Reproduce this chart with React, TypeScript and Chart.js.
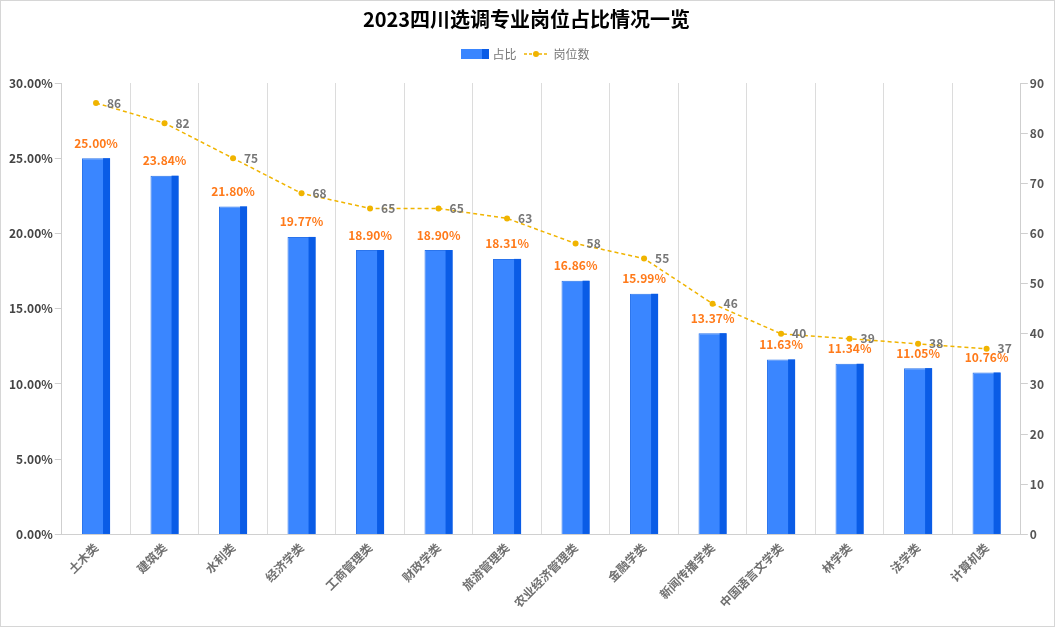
import React, { useEffect, useRef } from "react";
import { Chart, registerables } from "chart.js";

Chart.register(...registerables);

const categories = [
  "土木类", "建筑类", "水利类", "经济学类", "工商管理类", "财政学类", "旅游管理类",
  "农业经济管理类", "金融学类", "新闻传播学类", "中国语言文学类", "林学类", "法学类", "计算机类",
];
const sharePercent = [25.0, 23.84, 21.8, 19.77, 18.9, 18.9, 18.31, 16.86, 15.99, 13.37, 11.63, 11.34, 11.05, 10.76];
const positionCounts = [86, 82, 75, 68, 65, 65, 63, 58, 55, 46, 40, 39, 38, 37];
const titleText = "2023四川选调专业岗位占比情况一览";
const seriesNames = ["占比", "岗位数"];

const FONT = "'Noto Sans CJK SC', 'Noto Sans', sans-serif";
const BAR_MAIN = "#3a86ff";
const BAR_SIDE = "#0a5ce6";
const LINE_COLOR = "#f0b400";

function makeBarIcon() {
  const c = document.createElement("canvas");
  c.width = 28;
  c.height = 10;
  const ctx = c.getContext("2d")!;
  ctx.fillStyle = BAR_MAIN;
  ctx.fillRect(0, 0, 21, 10);
  ctx.fillStyle = BAR_SIDE;
  ctx.fillRect(21, 0, 7, 10);
  return c;
}
function makeLineIcon() {
  const c = document.createElement("canvas");
  c.width = 24;
  c.height = 10;
  const ctx = c.getContext("2d")!;
  ctx.strokeStyle = LINE_COLOR;
  ctx.lineWidth = 1.5;
  ctx.setLineDash([3, 2]);
  ctx.beginPath();
  ctx.moveTo(0, 5);
  ctx.lineTo(24, 5);
  ctx.stroke();
  ctx.fillStyle = LINE_COLOR;
  ctx.beginPath();
  ctx.arc(12, 5, 3, 0, Math.PI * 2);
  ctx.fill();
  return c;
}

const barSidePlugin = {
  id: "barSide",
  afterDatasetDraw(chart: any, args: any) {
    if (args.index !== 0) return;
    const ctx = chart.ctx;
    const meta = chart.getDatasetMeta(0);
    ctx.save();
    ctx.fillStyle = BAR_SIDE;
    meta.data.forEach((el: any) => {
      const w = el.width;
      const right = el.x + w / 2;
      const sw = w * 0.25;
      ctx.fillRect(right - sw, el.y, sw, el.base - el.y);
    });
    ctx.restore();
  },
};

const legendSpacePlugin = {
  id: "legendSpace",
  beforeLayout(chart: any) {
    const legend = chart.legend;
    if (legend && !legend.__wrapped) {
      const orig = legend.fit;
      legend.fit = function () {
        orig.call(this);
        this.height += 13;
      };
      legend.__wrapped = true;
    }
  },
};

const labelPlugin = {
  id: "valueLabels",
  afterDatasetsDraw(chart: any) {
    const ctx = chart.ctx;
    ctx.save();
    const barMeta = chart.getDatasetMeta(0);
    ctx.font = `bold 12px ${FONT}`;
    ctx.fillStyle = "#ff7a1a";
    ctx.textAlign = "center";
    ctx.textBaseline = "bottom";
    barMeta.data.forEach((el: any, i: number) => {
      ctx.fillText(sharePercent[i].toFixed(2) + "%", el.x, el.y - 9);
    });
    const lineMeta = chart.getDatasetMeta(1);
    ctx.fillStyle = "#777";
    ctx.textAlign = "left";
    ctx.textBaseline = "middle";
    lineMeta.data.forEach((el: any, i: number) => {
      ctx.fillText(String(positionCounts[i]), el.x + 11, el.y);
    });
    ctx.restore();
  },
};

export default function App() {
  const ref = useRef<HTMLCanvasElement>(null);
  useEffect(() => {
    document.body.style.margin = "0";
    const barIcon = makeBarIcon();
    const lineIcon = makeLineIcon();
    const chart = new Chart(ref.current!, {
      type: "bar",
      data: {
        labels: categories,
        datasets: [
          {
            type: "bar",
            label: seriesNames[0],
            data: sharePercent,
            backgroundColor: BAR_MAIN,
            borderColor: "#2a74ec",
            borderWidth: 1,
            yAxisID: "y",
            barPercentage: 0.41,
            categoryPercentage: 1,
            order: 1,
          },
          {
            type: "line",
            label: seriesNames[1],
            data: positionCounts,
            borderColor: LINE_COLOR,
            backgroundColor: LINE_COLOR,
            borderWidth: 1.5,
            borderDash: [4, 3],
            pointRadius: 3,
            pointBackgroundColor: LINE_COLOR,
            pointBorderWidth: 0,
            yAxisID: "y1",
            tension: 0,
            order: 0,
          },
        ],
      },
      options: {
        animation: false,
        responsive: true,
        maintainAspectRatio: false,
        layout: { padding: { left: 6, right: 8, top: 4, bottom: 10 } },
        plugins: {
          title: {
            display: true,
            text: titleText,
            color: "#000",
            font: { family: FONT, size: 20, weight: "bold" },
            padding: { top: 2, bottom: 9 },
          },
          legend: {
            display: true,
            position: "top",
            labels: {
              usePointStyle: true,
              pointStyleWidth: 23,
              color: "#777",
              font: { family: FONT, size: 12 },
              padding: 8,
              generateLabels: () => [
                { text: seriesNames[0], pointStyle: barIcon, fontColor: "#777", datasetIndex: 0, lineWidth: 0, strokeStyle: "transparent", fillStyle: BAR_MAIN },
                { text: seriesNames[1], pointStyle: lineIcon, fontColor: "#777", datasetIndex: 1, lineWidth: 0, strokeStyle: "transparent", fillStyle: LINE_COLOR },
              ] as any,
            },
          },
          tooltip: { enabled: false },
        },
        scales: {
          x: {
            grid: { offset: true, color: "#dcdcdc", drawTicks: false },
            border: { color: "#d0d0d0" },
            ticks: {
              color: "#707070",
              font: { family: FONT, size: 12, weight: "bold" },
              minRotation: 45,
              maxRotation: 45,
              padding: 6,
              autoSkip: false,
            },
          },
          y: {
            position: "left",
            min: 0,
            max: 30,
            grid: { drawOnChartArea: false, color: "#cfcfcf", tickLength: 7 },
            border: { color: "#cfcfcf" },
            ticks: {
              stepSize: 5,
              color: "#444",
              font: { family: FONT, size: 12, weight: "bold" },
              callback: (v: any) => Number(v).toFixed(2) + "%",
              padding: 2,
            },
          },
          y1: {
            position: "right",
            min: 0,
            max: 90,
            grid: { drawOnChartArea: false, color: "#cfcfcf", tickLength: 7 },
            border: { color: "#cfcfcf" },
            ticks: {
              stepSize: 10,
              color: "#555",
              font: { family: FONT, size: 12, weight: "bold" },
              padding: 2,
            },
          },
        },
      },
      plugins: [legendSpacePlugin, barSidePlugin, labelPlugin],
    } as any);
    return () => chart.destroy();
  }, []);
  return (
    <div
      style={{
        width: 1055,
        height: 627,
        boxSizing: "border-box",
        border: "1px solid #d6d6d6",
        background: "#fff",
        position: "relative",
      }}
    >
      <canvas ref={ref} />
    </div>
  );
}
